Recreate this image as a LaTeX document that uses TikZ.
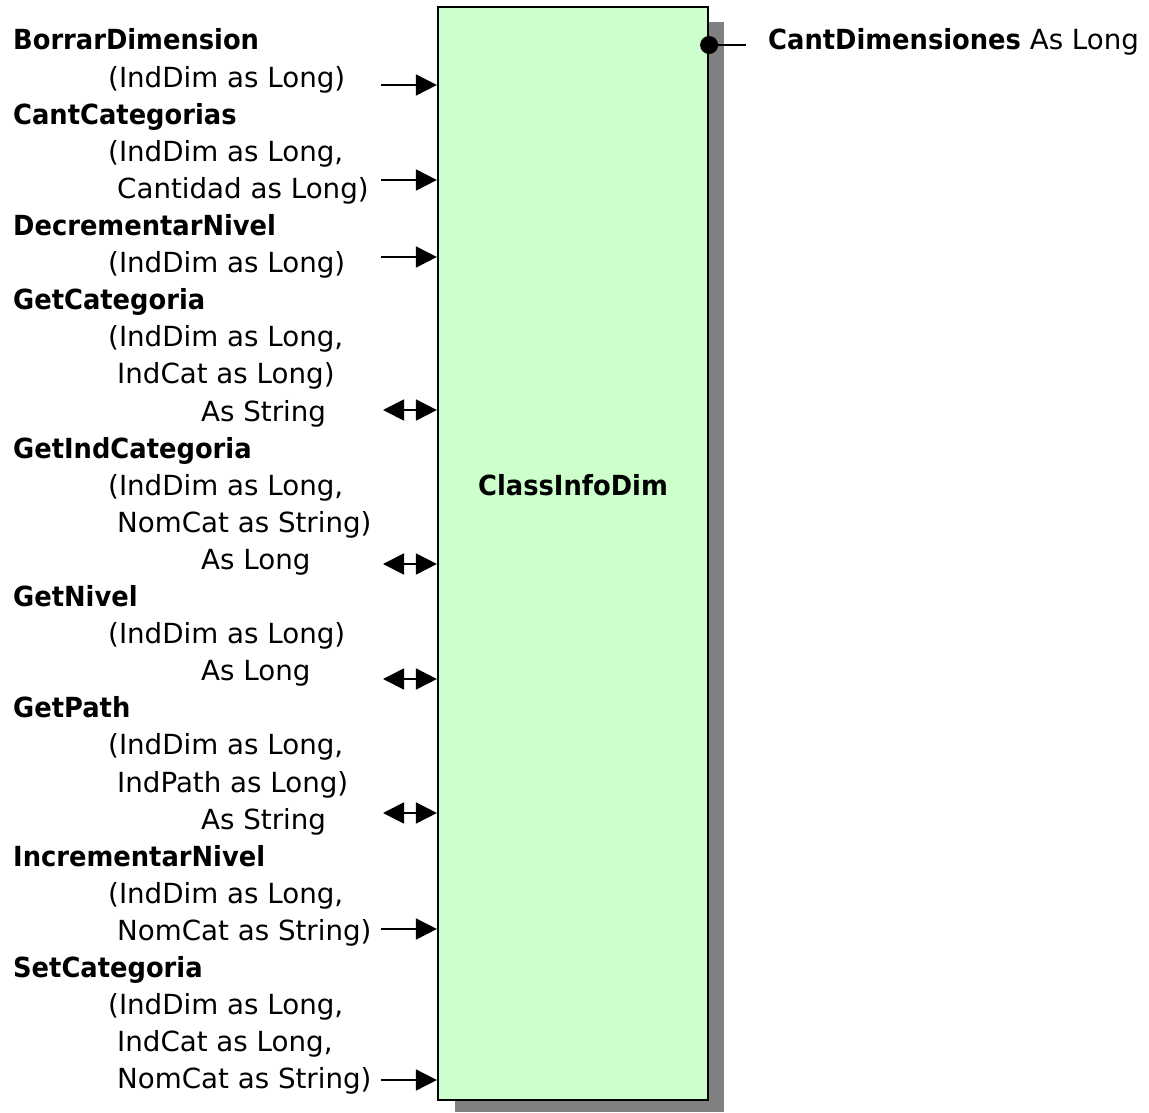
\documentclass[tikz,border=0pt]{standalone}
\usepackage{fontspec}
\setmainfont{DejaVu Sans}[BoldFeatures={FakeStretch=0.93}]
\usetikzlibrary{arrows.meta}
\begin{document}
\begin{tikzpicture}[x=1pt,y=-1pt,
  lbl/.style={anchor=base west,inner sep=0pt,font=\fontsize{27.7}{33}\selectfont},
  nm/.style={lbl,font=\fontsize{27.7}{33}\selectfont\bfseries},
  tip/.tip={Triangle[length=21pt,width=21pt]},
  inarrow/.style={line width=1.8pt,-tip},
  ioarrow/.style={line width=1.8pt,tip-tip},
  classbox/.style={draw=black,line width=2.2pt,fill=boxgreen,minimum width=270pt,minimum height=1093pt,inner sep=0pt}]
\definecolor{boxgreen}{HTML}{CCFFCC}
\definecolor{shadowgray}{HTML}{808080}
\useasboundingbox (0,0) rectangle (1149,1113);

% shadow and class box
\fill[shadowgray] (455,22) rectangle (724,1112);
\node[classbox] (box) at (573,553.5) {};
\node[font=\fontsize{27.7}{33}\selectfont\bfseries] (cname) at (573,485) {ClassInfoDim};

% property on the right
\coordinate (pend) at (746,45);
\fill (pend -| box.east) circle (9);
\draw[line width=1.8pt] (pend -| box.east) -- (pend);
\node[lbl] (prop) at (768,50) {\textbf{CantDimensiones} As Long};

% method labels
\def\rowy#1{\fpeval{50+37.1*#1}}
\node[nm]  (l0)  at (13,{\rowy{0}})  {BorrarDimension};
\node[lbl] (l1)  at (108,{\rowy{1}}) {(IndDim as Long)};
\node[nm]  (l2)  at (13,{\rowy{2}})  {CantCategorias};
\node[lbl] (l3)  at (108,{\rowy{3}}) {(IndDim as Long,};
\node[lbl] (l4)  at (117,{\rowy{4}}) {Cantidad as Long)};
\node[nm]  (l5)  at (13,{\rowy{5}})  {DecrementarNivel};
\node[lbl] (l6)  at (108,{\rowy{6}}) {(IndDim as Long)};
\node[nm]  (l7)  at (13,{\rowy{7}})  {GetCategoria};
\node[lbl] (l8)  at (108,{\rowy{8}}) {(IndDim as Long,};
\node[lbl] (l9)  at (117,{\rowy{9}}) {IndCat as Long)};
\node[lbl] (l10) at (201,{\rowy{10}}) {As String};
\node[nm]  (l11) at (13,{\rowy{11}}) {GetIndCategoria};
\node[lbl] (l12) at (108,{\rowy{12}}) {(IndDim as Long,};
\node[lbl] (l13) at (117,{\rowy{13}}) {NomCat as String)};
\node[lbl] (l14) at (201,{\rowy{14}}) {As Long};
\node[nm]  (l15) at (13,{\rowy{15}}) {GetNivel};
\node[lbl] (l16) at (108,{\rowy{16}}) {(IndDim as Long)};
\node[lbl] (l17) at (201,{\rowy{17}}) {As Long};
\node[nm]  (l18) at (13,{\rowy{18}}) {GetPath};
\node[lbl] (l19) at (108,{\rowy{19}}) {(IndDim as Long,};
\node[lbl] (l20) at (117,{\rowy{20}}) {IndPath as Long)};
\node[lbl] (l21) at (201,{\rowy{21}}) {As String};
\node[nm]  (l22) at (13,{\rowy{22}}) {IncrementarNivel};
\node[lbl] (l23) at (108,{\rowy{23}}) {(IndDim as Long,};
\node[lbl] (l24) at (117,{\rowy{24}}) {NomCat as String)};
\node[nm]  (l25) at (13,{\rowy{25}}) {SetCategoria};
\node[lbl] (l26) at (108,{\rowy{26}}) {(IndDim as Long,};
\node[lbl] (l27) at (117,{\rowy{27}}) {IndCat as Long,};
\node[lbl] (l28) at (117,{\rowy{28}}) {NomCat as String)};

% method connectors
\foreach \n/\y in {a1/85,a2/180,a3/257,a8/929,a9/1080}{
  \coordinate (\n) at (381,\y);
  \draw[inarrow] (\n) -- (\n -| box.west);
}
\foreach \n/\y in {a4/410,a5/564,a6/679,a7/813}{
  \coordinate (\n) at (383,\y);
  \draw[ioarrow] (\n) -- (\n -| box.west);
}
\end{tikzpicture}
\end{document}
